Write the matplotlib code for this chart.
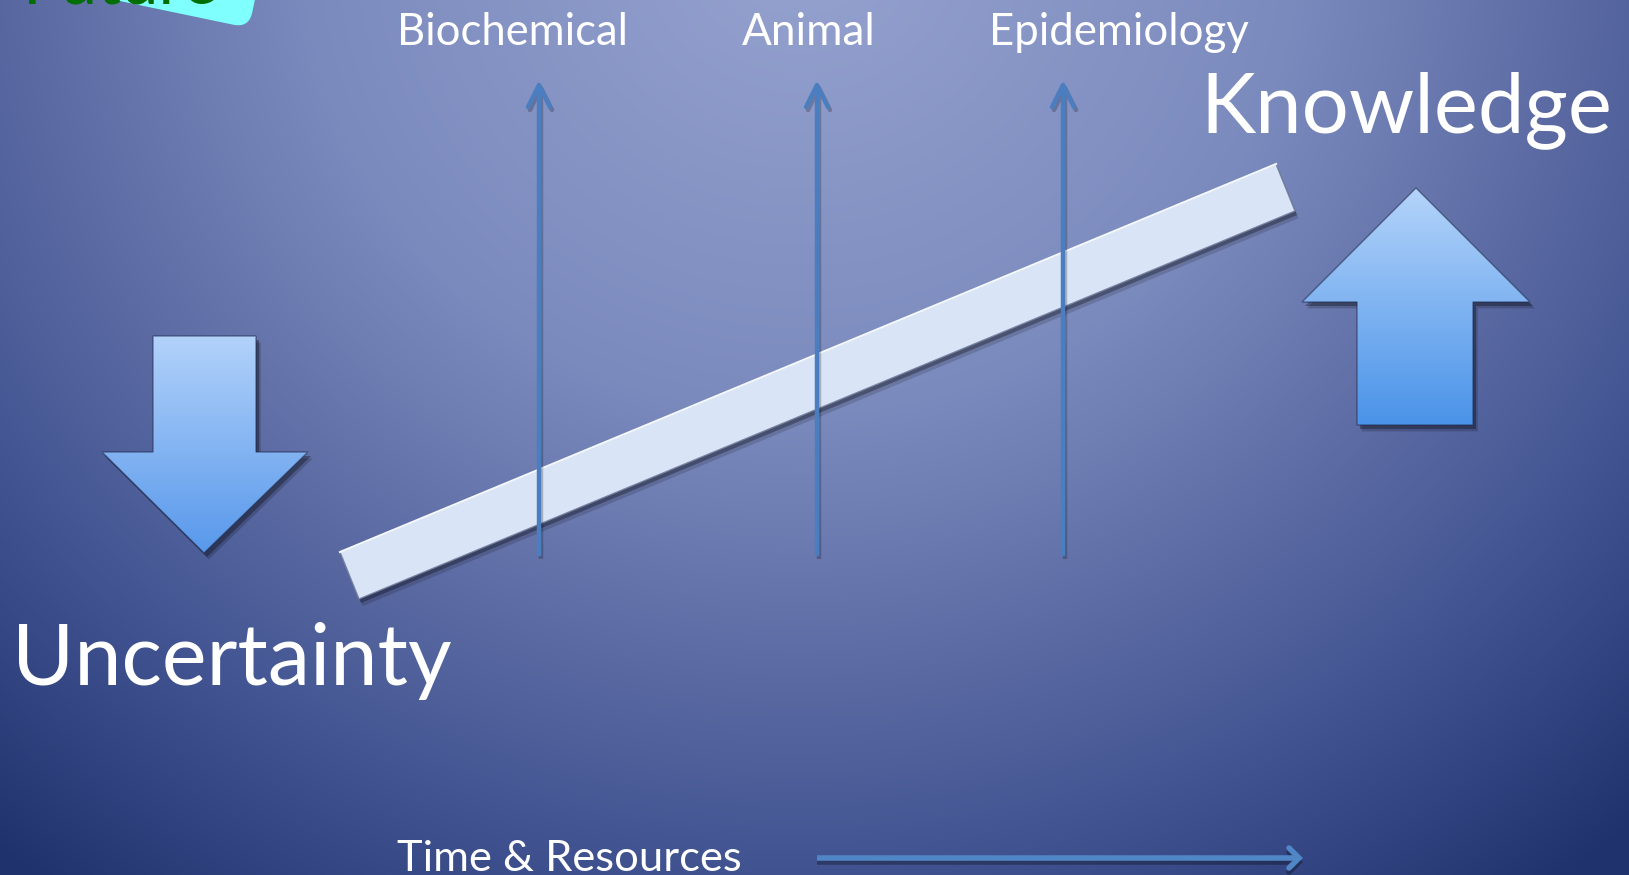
import numpy as np
import matplotlib
matplotlib.use("Agg")
import matplotlib.pyplot as plt
from matplotlib.patches import Polygon, FancyBboxPatch
from matplotlib.transforms import Affine2D

# ---------------- content ----------------
stage_labels = ["Biochemical", "Animal", "Epidemiology"]
left_label = "Uncertainty"
right_label = "Knowledge"
axis_label = "Time & Resources"
corner_label = "Future"

# ---------------- layout (pixel coordinates of the slide) ----------------
W, H = 1629, 875
stage_label_left = [397, 742, 989]
stage_label_width = [231, 134, 260]
stage_label_base = 45
stage_arrow_x = [539, 817, 1063]
stage_arrow_bottom, stage_arrow_top = 556, 85

FONT = ["Lato", "DejaVu Sans"]

fig = plt.figure(figsize=(W / 100, H / 100), dpi=100)
ax = fig.add_axes([0, 0, 1, 1])
ax.set_xlim(0, W)
ax.set_ylim(H, 0)
ax.axis("off")

# ---------------- background radial gradient ----------------
yy, xx = np.mgrid[0:H, 0:W].astype(float)
r = np.hypot(xx - 800, (yy + 60) / 0.95)
stops_r = [0, 500, 800, 950, 1250]
stops_c = np.array([(150, 163, 208), (123, 138, 189), (88, 103, 160),
                    (68, 87, 148), (32, 50, 110)]) / 255.0
bg = np.dstack([np.interp(r, stops_r, stops_c[:, i]) for i in range(3)])
ax.imshow(bg, extent=(0, W, H, 0), origin="upper", aspect="auto",
          zorder=0, interpolation="bilinear")


def gradient_poly(pts, c_top, c_bot, z, shadow=(3, 4)):
    pts = np.array(pts, float)
    for k, a in ((1.6, 0.18), (1.0, 0.3)):
        ax.add_patch(Polygon(pts + np.array(shadow) * k, closed=True,
                             fc=(0, 0, 0, a), ec="none", zorder=z - 0.2))
    y0, y1 = pts[:, 1].min(), pts[:, 1].max()
    x0, x1 = pts[:, 0].min(), pts[:, 0].max()
    t = np.linspace(0, 1, 256)[:, None]
    g = (1 - t) * np.array(c_top) / 255 + t * np.array(c_bot) / 255
    im = ax.imshow(g[:, None, :], extent=(x0, x1, y1, y0), origin="upper",
                   aspect="auto", zorder=z, interpolation="bilinear")
    im.set_clip_path(Polygon(pts, closed=True, transform=ax.transData))
    ax.add_patch(Polygon(pts, closed=True, fc="none",
                         ec=(0.12, 0.16, 0.3, 0.55), lw=1.0, zorder=z + 0.1))


# ---------------- "Future" tag in the corner ----------------
tag = FancyBboxPatch((-400, -200), 400, 200,
                     boxstyle="round,pad=0,rounding_size=16",
                     fc="#80ffff", ec="none", zorder=2,
                     transform=Affine2D().rotate_deg(11.8).translate(249, 28) + ax.transData)
ax.add_patch(tag)

# ---------------- big up / down arrows ----------------
down_arrow = [(153, 336), (256, 336), (256, 452), (308, 452), (204, 553),
              (102, 452), (153, 452)]
gradient_poly(down_arrow, (178, 210, 250), (88, 152, 235), z=3)

up_arrow = [(1416, 188), (1530, 302), (1473, 302), (1473, 425), (1357, 425),
            (1357, 302), (1302, 302)]
gradient_poly(up_arrow, (180, 212, 250), (74, 147, 232), z=3)

# ---------------- rising bar ----------------
bar = np.array([(340, 552), (1276, 164), (1295, 211), (359, 599)], float)
for k, a in ((1.8, 0.15), (1.0, 0.3)):
    ax.add_patch(Polygon(bar + np.array([2, 4]) * k, closed=True,
                         fc=(0, 0, 0, a), ec="none", zorder=3.8))
ax.add_patch(Polygon(bar, closed=True, fc="#d9e4f7",
                     ec=(0.45, 0.5, 0.62, 0.9), lw=1.0, zorder=4))
ax.plot(bar[:2, 0], bar[:2, 1], color="#f4f8ff", lw=1.5, zorder=4.1)

# ---------------- stage arrows ----------------
ARROW_C = "#4b7ec0"
for x in stage_arrow_x:
    for dx, dy, c, a in ((2, 3, "black", 0.22), (0, 0, ARROW_C, 1.0)):
        ax.plot([x + dx, x + dx], [stage_arrow_bottom + dy, stage_arrow_top + 2 + dy],
                color=c, alpha=a, lw=3.2, solid_capstyle="butt", zorder=5)
        ax.plot([x - 11 + dx, x + dx, x + 11 + dx],
                [stage_arrow_top + 22 + dy, stage_arrow_top + dy, stage_arrow_top + 22 + dy],
                color=c, alpha=a, lw=3.2, solid_capstyle="round",
                solid_joinstyle="round", zorder=5)

# ---------------- time axis arrow ----------------
TIME_C = "#5085c6"
ty = 858
for dy, c, a in ((4, "black", 0.3), (0, TIME_C, 1.0)):
    ax.plot([817, 1297], [ty + dy, ty + dy], color=c, alpha=a, lw=4.0,
            solid_capstyle="butt", zorder=5)
    ax.plot([1289, 1299, 1289], [ty - 10 + dy, ty + dy, ty + 10 + dy], color=c,
            alpha=a, lw=4.0, solid_capstyle="round", solid_joinstyle="miter", zorder=5)

# ---------------- texts (size fitted to width) ----------------
fig.canvas.draw()
renderer = fig.canvas.get_renderer()


def fit_text(x, y, s, width, color="white", z=6):
    t = ax.text(x, y, s, fontsize=20, family=FONT, color=color,
                ha="left", va="baseline", zorder=z)
    w = t.get_window_extent(renderer).width
    t.set_fontsize(20 * width / w)
    return t


for s, x, w in zip(stage_labels, stage_label_left, stage_label_width):
    fit_text(x, stage_label_base, s, w)
fit_text(1200, 132, right_label, 412)
fit_text(12, 685, left_label, 440)
fit_text(397, 871, axis_label, 345)
fit_text(23, 4, corner_label, 197, color="#006e00", z=3)

fig.savefig("out.png", dpi=100)
